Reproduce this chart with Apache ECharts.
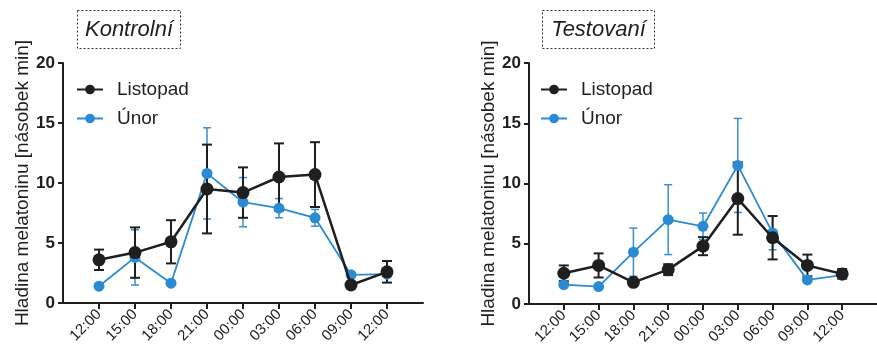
<!DOCTYPE html>
<html lang="cs">
<head>
<meta charset="UTF-8">
<title>Melatonin</title>
<script src="https://cdn.jsdelivr.net/npm/echarts@6/dist/echarts.min.js"></script>
<style>
  html, body { margin: 0; padding: 0; background: #fff; }
  #main { width: 877px; height: 356px; }
</style>
</head>
<body>
<div id="main"></div>
<script>
// data
var timeLabels = ['12:00', '15:00', '18:00', '21:00', '00:00', '03:00', '06:00', '09:00', '12:00'];

var kontrolListopad = [3.6, 4.2, 5.1, 9.5, 9.2, 10.5, 10.7, 1.5, 2.6];
var kontrolListopadSd = [0.85, 2.1, 1.8, 3.7, 2.1, 2.8, 2.7, 0.2, 0.9];
var kontrolUnor = [1.4, 3.8, 1.65, 10.8, 8.4, 7.9, 7.1, 2.35, 2.4];
var kontrolUnorSd = [0.2, 2.3, 0.2, 3.8, 2.05, 0.8, 0.7, 0.2, 0.2];

var testListopad = [2.55, 3.2, 1.8, 2.85, 4.8, 8.75, 5.5, 3.2, 2.5];
var testListopadSd = [0.65, 1.0, 0.15, 0.45, 0.75, 3.0, 1.8, 0.9, 0.4];
var testUnor = [1.6, 1.45, 4.3, 7.0, 6.45, 11.5, 5.9, 2.0, 2.4];
var testUnorSd = [0.15, 0.15, 2.0, 2.9, 1.1, 3.9, 1.4, 0.2, 0.2];

var yTicks = [0, 5, 10, 15, 20];

var black = '#1f1f1f';
var blue = '#2a8bd3';
var font = 'Liberation Sans';

function points(vals) {
  return vals.map(function (v, i) { return [i, v]; });
}
function errData(vals, sd) {
  return vals.map(function (v, i) { return [i, v - sd[i], v + sd[i]]; });
}

function errSeries(name, idx, vals, sd, color, w, cap) {
  return {
    name: name,
    type: 'custom',
    xAxisIndex: idx,
    yAxisIndex: idx,
    silent: true,
    z: 1,
    data: errData(vals, sd),
    renderItem: function (params, api) {
      var lo = api.coord([api.value(0), api.value(1)]);
      var hi = api.coord([api.value(0), api.value(2)]);
      var st = { stroke: color, lineWidth: w };
      return {
        type: 'group',
        children: [
          { type: 'line', shape: { x1: lo[0], y1: lo[1], x2: hi[0], y2: hi[1] }, style: st },
          { type: 'line', shape: { x1: hi[0] - cap, y1: hi[1], x2: hi[0] + cap, y2: hi[1] }, style: st },
          { type: 'line', shape: { x1: lo[0] - cap, y1: lo[1], x2: lo[0] + cap, y2: lo[1] }, style: st }
        ]
      };
    }
  };
}

function lineSeries(name, idx, vals, color, lw, size, z) {
  return {
    name: name,
    type: 'line',
    xAxisIndex: idx,
    yAxisIndex: idx,
    data: points(vals),
    symbol: 'circle',
    symbolSize: size,
    z: z,
    lineStyle: { color: color, width: lw },
    itemStyle: { color: color }
  };
}

function xAxis(idx) {
  return {
    type: 'value',
    gridIndex: idx,
    min: -1,
    max: 9,
    interval: 1,
    splitLine: { show: false },
    axisLine: { onZero: false, lineStyle: { color: black, width: 2 } },
    axisTick: { customValues: [0, 1, 2, 3, 4, 5, 6, 7, 8], length: 6, lineStyle: { color: black, width: 2 } },
    axisLabel: {
      customValues: [0, 1, 2, 3, 4, 5, 6, 7, 8],
      rotate: 45,
      margin: 9,
      fontSize: 15,
      fontFamily: font,
      color: black,
      formatter: function (v) { return timeLabels[v]; }
    }
  };
}

function yAxis(idx) {
  return {
    type: 'value',
    gridIndex: idx,
    min: yTicks[0],
    max: yTicks[yTicks.length - 1],
    interval: 5,
    name: 'Hladina melatoninu [násobek min]',
    nameLocation: 'middle',
    nameRotate: 90,
    nameGap: 30,
    nameTextStyle: { fontSize: 19, fontFamily: font, color: black },
    splitLine: { show: false },
    axisLine: { show: true, onZero: false, lineStyle: { color: black, width: 2 } },
    axisTick: { show: true, length: 5, lineStyle: { color: black, width: 2 } },
    axisLabel: { fontSize: 17, fontWeight: 'bold', fontFamily: font, color: black, margin: 8 }
  };
}

function legend(left) {
  return {
    left: left,
    top: 80,
    padding: 0,
    orient: 'vertical',
    itemGap: 10,
    itemWidth: 26,
    itemHeight: 12,
    data: ['Listopad', 'Únor'],
    textStyle: { fontSize: 19, fontFamily: font, color: black, padding: [0, 0, 0, 9] }
  };
}

function titleBox(x, w, text) {
  return {
    type: 'group',
    left: x,
    top: 10,
    children: [
      { type: 'rect', shape: { x: 0, y: 0, width: w, height: 38 },
        style: { fill: '#fff', stroke: '#333', lineWidth: 1, lineDash: [2, 2] } },
      { type: 'text', x: w / 2, y: 19,
        style: { text: text, fontSize: 22, fontStyle: 'italic', fontFamily: font, fill: black,
                 align: 'center', verticalAlign: 'middle' } }
    ]
  };
}

var chart = echarts.init(document.getElementById('main'));
chart.setOption({
  animation: false,
  backgroundColor: '#fff',
  grid: [
    { left: 63, top: 63, width: 360, height: 240 },
    { left: 529, top: 63, width: 360, height: 241 }
  ],
  xAxis: [xAxis(0), xAxis(1)],
  yAxis: [yAxis(0), yAxis(1)],
  legend: [legend(76), legend(540)],
  graphic: [titleBox(77, 103, 'Kontrolní'), titleBox(542, 112, 'Testovaní')],
  series: [
    errSeries('errKU', 0, kontrolUnor, kontrolUnorSd, '#3a8fcf', 1.5, 4),
    lineSeries('Únor', 0, kontrolUnor, blue, 1.8, 11, 2),
    errSeries('errKL', 0, kontrolListopad, kontrolListopadSd, black, 2, 5),
    lineSeries('Listopad', 0, kontrolListopad, black, 2.5, 13, 3),
    errSeries('errTU', 1, testUnor, testUnorSd, '#3a8fcf', 1.5, 4),
    lineSeries('Únor', 1, testUnor, blue, 1.8, 11, 2),
    errSeries('errTL', 1, testListopad, testListopadSd, black, 2, 5),
    lineSeries('Listopad', 1, testListopad, black, 2.5, 13, 3)
  ]
});
</script>
</body>
</html>
